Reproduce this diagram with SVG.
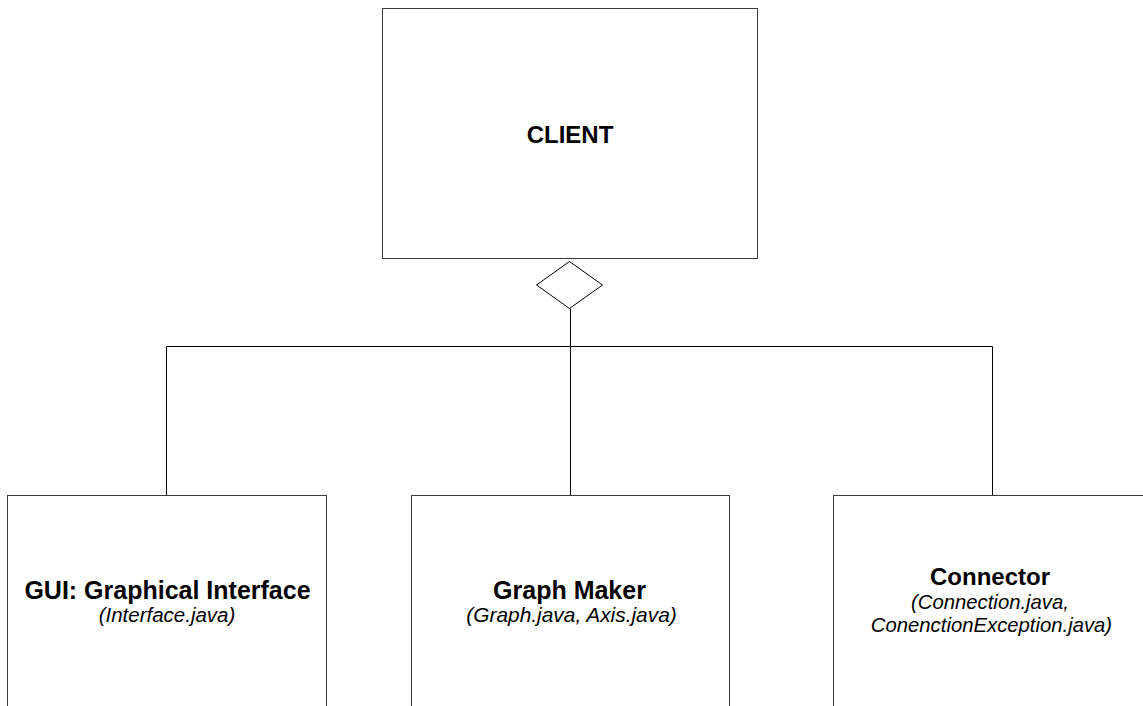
<svg xmlns="http://www.w3.org/2000/svg" width="1143" height="706" viewBox="0 0 1143 706">
  <style>
    .box { fill: #ffffff; stroke: #3a3a3a; stroke-width: 1; }
    .link { fill: none; stroke: #000000; stroke-width: 1; }
    .title { font-family: "Liberation Sans", Arial, sans-serif; font-weight: bold; font-size: 24px; fill: #000; text-anchor: middle; }
    .sub { font-family: "Liberation Sans", Arial, sans-serif; font-style: italic; font-size: 20.3px; fill: #000; text-anchor: middle; }
  </style>
  <rect width="1143" height="706" fill="#ffffff"/>

  <g id="connectors">
    <!-- aggregation diamond under the client -->
    <polygon class="link" points="569.5,261.5 602.5,285 569.5,308.5 536.5,285"/>
    <line class="link" x1="570.5" y1="308.5" x2="570.5" y2="495.5"/>
    <line class="link" x1="166.5" y1="346.5" x2="992.5" y2="346.5"/>
    <line class="link" x1="166.5" y1="346.5" x2="166.5" y2="495.5"/>
    <line class="link" x1="992.5" y1="346.5" x2="992.5" y2="495.5"/>
  </g>

  <g id="client">
    <rect class="box" x="382.5" y="8.5" width="375" height="250"/>
    <text class="title" x="570" y="143">CLIENT</text>
  </g>

  <g id="gui">
    <rect class="box" x="7.5" y="495.5" width="319" height="260"/>
    <text class="title" x="167.5" y="599" style="font-size:25px">GUI: Graphical Interface</text>
    <text class="sub" x="167" y="622" style="font-size:20.5px">(Interface.java)</text>
  </g>

  <g id="graph-maker">
    <rect class="box" x="411.5" y="495.5" width="318" height="260"/>
    <text class="title" x="569.5" y="599" style="font-size:25px">Graph Maker</text>
    <text class="sub" x="571.5" y="622" style="font-size:20.9px">(Graph.java, Axis.java)</text>
  </g>

  <g id="connector">
    <rect class="box" x="833.5" y="495.5" width="318" height="260"/>
    <text class="title" x="990" y="585">Connector</text>
    <text class="sub" x="990" y="609">(Connection.java,</text>
    <text class="sub" x="991.5" y="632">ConenctionException.java)</text>
  </g>
</svg>
